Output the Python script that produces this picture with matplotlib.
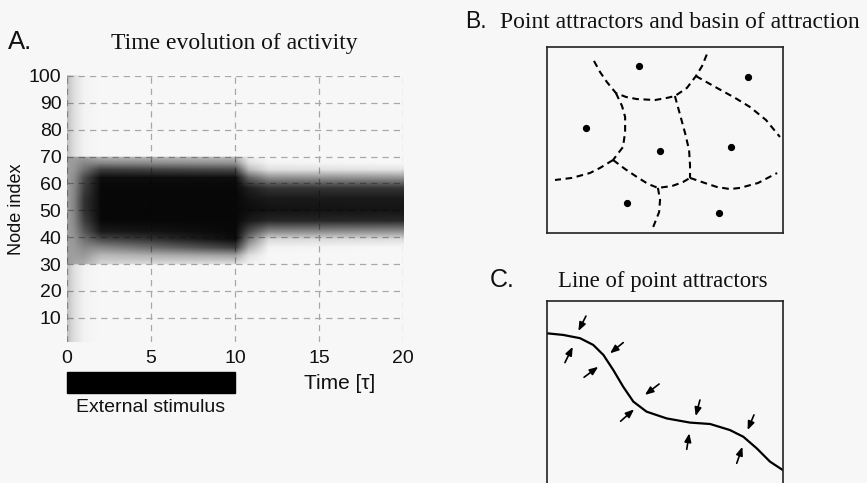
import matplotlib

matplotlib.use("Agg")
import matplotlib.pyplot as plt
import numpy as np
from matplotlib.colors import LinearSegmentedColormap
from matplotlib.image import NonUniformImage

W, H = 867, 483
BG = "#f7f7f7"

# --- Panel A: activity (darkness 0..1) on a coarse node x time grid ---
time_knots = [0.0, 0.4, 1.0, 2.0, 10.0, 10.8, 12.0, 20.0]
node_knots = [1, 29.5, 30, 33, 36, 39, 42, 46, 50, 54, 58, 62, 65, 67.5, 69.5, 70, 100]
activity = [
    # t: 0    0.4   1.0   2.0   10    10.8  12    20
    [0.22, 0.10, 0.02, 0.00, 0.00, 0.00, 0.00, 0.00],  # 1
    [0.22, 0.10, 0.02, 0.00, 0.00, 0.00, 0.00, 0.00],  # 29.5
    [0.36, 0.33, 0.30, 0.14, 0.10, 0.03, 0.00, 0.00],  # 30
    [0.36, 0.36, 0.38, 0.25, 0.35, 0.10, 0.00, 0.00],  # 33
    [0.36, 0.38, 0.45, 0.45, 0.75, 0.30, 0.02, 0.00],  # 36
    [0.36, 0.40, 0.55, 0.70, 0.95, 0.50, 0.12, 0.10],  # 39
    [0.36, 0.43, 0.65, 0.90, 0.97, 0.70, 0.45, 0.42],  # 42
    [0.36, 0.46, 0.75, 0.97, 0.97, 0.90, 0.85, 0.84],  # 46
    [0.36, 0.48, 0.80, 0.97, 0.97, 0.95, 0.93, 0.92],  # 50
    [0.36, 0.48, 0.80, 0.97, 0.97, 0.93, 0.90, 0.90],  # 54
    [0.36, 0.46, 0.75, 0.97, 0.97, 0.88, 0.80, 0.80],  # 58
    [0.36, 0.43, 0.70, 0.95, 0.95, 0.60, 0.42, 0.40],  # 62
    [0.36, 0.40, 0.55, 0.75, 0.70, 0.25, 0.10, 0.08],  # 65
    [0.36, 0.38, 0.45, 0.45, 0.40, 0.10, 0.02, 0.00],  # 67.5
    [0.36, 0.36, 0.38, 0.28, 0.25, 0.05, 0.00, 0.00],  # 69.5
    [0.22, 0.10, 0.02, 0.00, 0.00, 0.00, 0.00, 0.00],  # 70
    [0.22, 0.10, 0.02, 0.00, 0.00, 0.00, 0.00, 0.00],  # 100
]
stimulus_on, stimulus_off = 0, 10
x_ticks = [0, 5, 10, 15, 20]
y_ticks = [10, 20, 30, 40, 50, 60, 70, 80, 90, 100]

# --- Panel B: attractor points and basin boundaries ---
attractor_x = [3.90, 8.52, 1.65, 4.79, 7.80, 3.39, 7.29]
attractor_y = [7.18, 6.71, 4.52, 3.53, 3.70, 1.29, 0.86]
basin_lines = [
    [(1.99, 7.40), (2.25, 6.92), (2.54, 6.49), (2.92, 6.02), (3.35, 5.85), (3.81, 5.76),
     (4.58, 5.72), (5.08, 5.81), (5.42, 5.89), (5.93, 6.24), (6.31, 6.75), (6.57, 7.18), (6.78, 7.70)],
    [(6.31, 6.75), (7.20, 6.24), (7.97, 5.81), (8.60, 5.42), (9.28, 4.86), (9.87, 4.13)],
    [(2.92, 6.02), (3.18, 5.46), (3.31, 4.99), (3.31, 4.34), (3.22, 3.70), (2.80, 3.14)],
    [(2.80, 3.14), (2.25, 2.80), (1.82, 2.58), (1.06, 2.37), (0.34, 2.28)],
    [(2.80, 3.14), (3.31, 2.75), (3.81, 2.41), (4.28, 2.11), (4.70, 1.94), (5.30, 2.02),
     (5.76, 2.19), (6.06, 2.37)],
    [(5.42, 5.89), (5.64, 5.08), (5.85, 4.30), (6.02, 3.57), (6.06, 2.92), (6.06, 2.37)],
    [(6.06, 2.37), (6.69, 2.15), (7.20, 1.98), (7.75, 1.89), (8.18, 1.94), (8.94, 2.15), (9.75, 2.58)],
    [(4.70, 1.94), (4.79, 1.42), (4.75, 0.90), (4.45, 0.13)],
]

# --- Panel C: line attractor and flow arrows ---
line_x = [0.0, 0.69, 1.40, 1.96, 2.39, 2.81, 3.23, 3.66, 4.22, 5.07, 6.06, 6.91, 7.75, 8.32, 8.89, 9.45, 9.99]
line_y = [6.61, 6.54, 6.40, 6.11, 5.68, 5.03, 4.31, 3.67, 3.24, 2.95, 2.77, 2.71, 2.45, 2.16, 1.66, 1.09, 0.73]
arrow_tail = [(1.65, 7.35), (0.76, 5.35), (3.23, 6.21), (1.57, 4.72), (4.75, 4.43),
              (3.12, 2.83), (6.48, 3.74), (5.92, 1.62), (8.77, 3.10), (8.04, 1.02)]
arrow_head = [(1.33, 6.71), (1.09, 6.03), (2.67, 5.75), (2.17, 5.17), (4.15, 3.96),
              (3.69, 3.34), (6.30, 3.05), (6.03, 2.31), (8.50, 2.45), (8.28, 1.73)]


def px_box(x0, y0, x1, y1):
    """pixel box (top-left origin) -> figure fraction rect"""
    return [x0 / W, (H - y1) / H, (x1 - x0) / W, (y1 - y0) / H]


plt.rcParams["font.family"] = ["Liberation Sans", "DejaVu Sans"]
TXT = "#111111"
fig = plt.figure(figsize=(W / 100, H / 100), dpi=100, facecolor=BG)

# Panel A
ax = fig.add_axes(px_box(67, 76, 403, 342), facecolor=BG)
cmap = LinearSegmentedColormap.from_list("ink", [(0, 0, 0, 0), (0, 0, 0, 1)])
im = NonUniformImage(ax, interpolation="bilinear", cmap=cmap, extent=(0, 20, 1, 100), zorder=2)
im.set_data(time_knots, node_knots, np.array(activity))
im.set_clim(0, 1)
ax.add_image(im)
ax.set_xlim(0, 20)
ax.set_ylim(1, 100)
ax.set_xticks(x_ticks)
ax.set_yticks(y_ticks)
ax.grid(True, color="#a8a8a8", linestyle=(0, (5, 4)), linewidth=0.9, zorder=1)
ax.set_axisbelow(True)
for s in ax.spines.values():
    s.set_visible(False)
ax.tick_params(length=0, labelsize=14, colors=TXT, pad=6)
ax.tick_params(axis="y", pad=4)
ax.set_ylabel("Node index", fontsize=13, color=TXT, labelpad=3)
ax.axvspan(stimulus_on, stimulus_off, ymin=-0.192, ymax=-0.113, color="black", clip_on=False)
ax.text((stimulus_on + stimulus_off) / 2, -0.245, "External stimulus", transform=ax.get_xaxis_transform(),
        ha="center", va="center", fontsize=14, color=TXT)
ax.text(16.2, -0.155, "Time [τ]", transform=ax.get_xaxis_transform(),
        ha="center", va="center", fontsize=15, color=TXT)

fig.text(8 / W, 1 - 42 / H, "A.", fontsize=18.5, ha="left", va="center", color=TXT)
fig.text(234 / W, 1 - 43 / H, "Time evolution of activity", fontsize=17, ha="center", va="center",
         family="Liberation Serif", color=TXT)

# Panel B
axb = fig.add_axes(px_box(547, 47, 783, 233), facecolor=BG)
for pts in basin_lines:
    xs, ys = zip(*pts)
    axb.plot(xs, ys, color="black", linewidth=1.5, linestyle=(0, (3.2, 2.2)))
axb.plot(attractor_x, attractor_y, "o", color="black", markersize=4.2)
axb.set_xlim(0, 10)
axb.set_ylim(0, 8)
axb.set_xticks([])
axb.set_yticks([])
for s in axb.spines.values():
    s.set_linewidth(1.2)
    s.set_color("#222222")

fig.text(465 / W, 1 - 21 / H, "B.", fontsize=16.5, ha="left", va="center", color=TXT)
fig.text(500 / W, 1 - 22 / H, "Point attractors and basin of attraction", fontsize=17,
         ha="left", va="center", family="Liberation Serif", color=TXT)

# Panel C
axc = fig.add_axes(px_box(547, 301, 783, 490), facecolor=BG)
axc.plot(line_x, line_y, color="black", linewidth=1.6)
for tail, head in zip(arrow_tail, arrow_head):
    axc.annotate("", xy=head, xytext=tail,
                 arrowprops=dict(arrowstyle="-|>,head_length=0.5,head_width=0.2",
                                 color="black", lw=1.2, shrinkA=0, shrinkB=0))
axc.set_xlim(0, 10)
axc.set_ylim(8 - 189 / 23.25, 8)
axc.set_xticks([])
axc.set_yticks([])
for s in axc.spines.values():
    s.set_linewidth(1.2)
    s.set_color("#222222")

fig.text(490 / W, 1 - 280 / H, "C.", fontsize=18, ha="left", va="center", color=TXT)
fig.text(663 / W, 1 - 281 / H, "Line of point attractors", fontsize=16.4, ha="center", va="center",
         family="Liberation Serif", color=TXT)

fig.savefig("out.png", dpi=100, facecolor=BG)
